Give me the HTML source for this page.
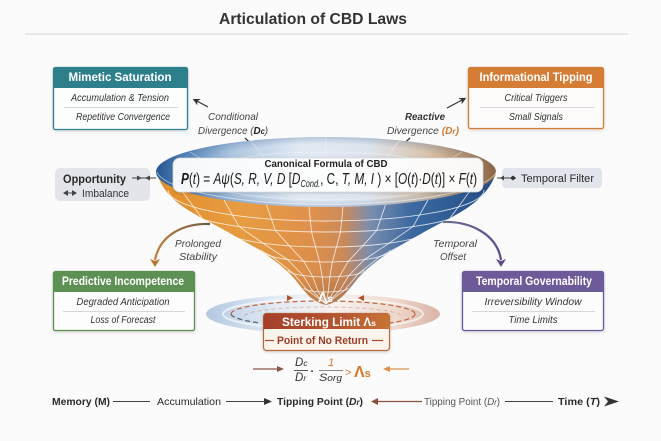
<!DOCTYPE html>
<html><head><meta charset="utf-8">
<style>
html,body{margin:0;padding:0;background:#fbfbfc;}
svg{display:block;}
text{font-family:"Liberation Sans",sans-serif;}
.it{font-style:italic;}
.b{font-weight:bold;}
</style></head>
<body>
<svg width="661" height="441" viewBox="0 0 661 441" xmlns="http://www.w3.org/2000/svg">
<defs>
  <linearGradient id="body" gradientUnits="userSpaceOnUse" x1="157" y1="0" x2="496" y2="0">
    <stop offset="0" stop-color="#e3902c"/>
    <stop offset="0.25" stop-color="#eb9e42"/>
    <stop offset="0.45" stop-color="#e3934c"/>
    <stop offset="0.55" stop-color="#d08c5a"/>
    <stop offset="0.63" stop-color="#7b8fb0"/>
    <stop offset="0.75" stop-color="#3d6ba3"/>
    <stop offset="1" stop-color="#214c85"/>
  </linearGradient>
  <linearGradient id="bodyShade" x1="0" y1="0" x2="0" y2="1">
    <stop offset="0" stop-color="#000" stop-opacity="0"/>
    <stop offset="0.75" stop-color="#000" stop-opacity="0.03"/>
    <stop offset="1" stop-color="#0a1a40" stop-opacity="0.2"/>
  </linearGradient>
  <linearGradient id="inner" gradientUnits="userSpaceOnUse" x1="157" y1="0" x2="496" y2="0">
    <stop offset="0" stop-color="#2a5a96"/>
    <stop offset="0.07" stop-color="#5586bd"/>
    <stop offset="0.22" stop-color="#adc6e1"/>
    <stop offset="0.42" stop-color="#e1e9f3"/>
    <stop offset="0.62" stop-color="#dde4ee"/>
    <stop offset="0.8" stop-color="#d9c3aa"/>
    <stop offset="0.93" stop-color="#c4935f"/>
    <stop offset="1" stop-color="#a56a35"/>
  </linearGradient>
  <radialGradient id="innerEdge" cx="0.5" cy="0.5" r="0.5">
    <stop offset="0.8" stop-color="#1d4a85" stop-opacity="0"/>
    <stop offset="1" stop-color="#1d4a85" stop-opacity="0.22"/>
  </radialGradient>
  <linearGradient id="disk" x1="0" y1="0" x2="1" y2="0">
    <stop offset="0" stop-color="#b3c8e1"/>
    <stop offset="0.3" stop-color="#e3ebf4"/>
    <stop offset="0.55" stop-color="#f6f2ef"/>
    <stop offset="0.8" stop-color="#efdad0"/>
    <stop offset="1" stop-color="#d9b4a6"/>
  </linearGradient>
  <linearGradient id="sterk" x1="0" y1="0" x2="1" y2="0">
    <stop offset="0" stop-color="#a4402c"/>
    <stop offset="0.6" stop-color="#b5552f"/>
    <stop offset="1" stop-color="#c87436"/>
  </linearGradient>
  <linearGradient id="prol" gradientUnits="userSpaceOnUse" x1="210" y1="0" x2="150" y2="0">
    <stop offset="0" stop-color="#6b5a48"/>
    <stop offset="1" stop-color="#c4843c"/>
  </linearGradient>
  <linearGradient id="toff" gradientUnits="userSpaceOnUse" x1="443" y1="0" x2="505" y2="0">
    <stop offset="0" stop-color="#6a7090"/>
    <stop offset="1" stop-color="#5f4a94"/>
  </linearGradient>
  <clipPath id="bodyClip">
    <path d="M157,172 C160,187 172,200 188,210 C204,220 218,226 233,235 C257,248 276,260 290,274 C302,286 308,301 326,305 C344,301 350,286 362,274 C376,260 395,248 419,235 C434,226 448,220 464,210 C480,200 492,187 496,172 A170,35 0 0 1 157,172 Z"/>
  </clipPath>
  <clipPath id="innerClip"><ellipse cx="326" cy="172" rx="170" ry="35"/></clipPath>
  <filter id="sh" x="-10%" y="-30%" width="120%" height="160%">
    <feDropShadow dx="0" dy="1" stdDeviation="1.5" flood-color="#000" flood-opacity="0.18"/>
  </filter>
  <marker id="ah" viewBox="0 0 10 10" refX="8" refY="5" markerWidth="6" markerHeight="6" orient="auto">
    <path d="M0,0 L10,5 L0,10 L3,5 Z" fill="#333"/>
  </marker>
</defs>

<!-- Title -->
<text x="313" y="24" text-anchor="middle" class="b" font-size="16" fill="#333" textLength="188" lengthAdjust="spacingAndGlyphs">Articulation of CBD Laws</text>
<line x1="25" y1="34" x2="628" y2="34" stroke="#d2d4d8" stroke-width="1"/>

<!-- Mimetic Saturation -->
<g filter="url(#sh)">
<rect x="53.5" y="67.5" width="134" height="62" rx="2" fill="#fcfdfd" stroke="#2d7f8d" stroke-width="1.3"/>
<path d="M53.5,88 V69.5 a2,2 0 0 1 2,-2 H185.5 a2,2 0 0 1 2,2 V88 Z" fill="#2e7f8c"/>
</g>
<text x="120" y="81" text-anchor="middle" class="b" font-size="11.5" fill="#fff" textLength="103" lengthAdjust="spacingAndGlyphs">Mimetic Saturation</text>
<text x="120" y="101" text-anchor="middle" class="it" font-size="10" fill="#333" textLength="98" lengthAdjust="spacingAndGlyphs">Accumulation &amp; Tension</text>
<line x1="64" y1="107.5" x2="178" y2="107.5" stroke="#d5d7da" stroke-width="1"/>
<text x="123" y="120" text-anchor="middle" class="it" font-size="10" fill="#333" textLength="94" lengthAdjust="spacingAndGlyphs">Repetitive Convergence</text>

<!-- Informational Tipping -->
<g filter="url(#sh)">
<rect x="468.5" y="67.5" width="135" height="61" rx="2" fill="#fdfcfb" stroke="#d47b35" stroke-width="1.3"/>
<path d="M468.5,88 V69.5 a2,2 0 0 1 2,-2 H601.5 a2,2 0 0 1 2,2 V88 Z" fill="#d57b35"/>
</g>
<text x="536" y="81" text-anchor="middle" class="b" font-size="11.5" fill="#fff" textLength="113" lengthAdjust="spacingAndGlyphs">Informational Tipping</text>
<text x="536" y="101" text-anchor="middle" class="it" font-size="10" fill="#333" textLength="63" lengthAdjust="spacingAndGlyphs">Critical Triggers</text>
<line x1="480" y1="107.5" x2="595" y2="107.5" stroke="#d5d7da" stroke-width="1"/>
<text x="536" y="120" text-anchor="middle" class="it" font-size="10" fill="#333" textLength="54" lengthAdjust="spacingAndGlyphs">Small Signals</text>

<!-- Conditional Divergence -->
<line x1="208" y1="107" x2="194" y2="99.5" stroke="#333" stroke-width="1.2" marker-end="url(#ah)"/>
<text x="233" y="120" text-anchor="middle" class="it" font-size="10.5" fill="#444" textLength="50" lengthAdjust="spacingAndGlyphs">Conditional</text>
<text x="198" y="134" class="it" font-size="10.5" fill="#444" textLength="70" lengthAdjust="spacingAndGlyphs">Divergence (<tspan class="b" fill="#222">D<tspan font-size="8">c</tspan></tspan>)</text>
<line x1="245" y1="138" x2="259" y2="151" stroke="#333" stroke-width="1.2" marker-end="url(#ah)"/>

<!-- Reactive Divergence -->
<line x1="447" y1="108" x2="465" y2="98.5" stroke="#333" stroke-width="1.2" marker-end="url(#ah)"/>
<text x="425" y="120" text-anchor="middle" class="it b" font-size="10.5" fill="#333" textLength="40" lengthAdjust="spacingAndGlyphs">Reactive</text>
<text x="387" y="134" class="it" font-size="10.5" fill="#444" textLength="72" lengthAdjust="spacingAndGlyphs">Divergence <tspan class="b" fill="#d27a2e">(D<tspan font-size="8">r</tspan>)</tspan></text>
<line x1="410" y1="138" x2="396" y2="151" stroke="#333" stroke-width="1.2" marker-end="url(#ah)"/>

<!-- Disk under funnel -->
<ellipse cx="323" cy="314" rx="117" ry="20" fill="url(#disk)"/>
<ellipse cx="323" cy="314" rx="100" ry="15" fill="none" stroke="#ffffff" stroke-opacity="0.6" stroke-width="2"/>
<path d="M231,314 A92,13 0 0 1 415,314" fill="none" stroke="#c2683f" stroke-width="1.2" stroke-dasharray="5,3"/>
<path d="M231,314 A92,13 0 0 0 260,323" fill="none" stroke="#5f6470" stroke-width="1.3" stroke-dasharray="5,3"/>
<path d="M415,314 A92,13 0 0 1 390,323" fill="none" stroke="#c2683f" stroke-width="1.2" stroke-dasharray="5,3"/>
<path d="M245,316 A78,9 0 0 1 401,316" fill="none" stroke="#c98a70" stroke-opacity="0.5" stroke-width="1" stroke-dasharray="4,3"/>
<path d="M287,295 L293,298 L287,301 Z" fill="#b0522e"/>
<path d="M364,295 L358,298 L364,301 Z" fill="#b0522e"/>

<!-- Funnel body -->
<path d="M157,172 C160,187 172,200 188,210 C204,220 218,226 233,235 C257,248 276,260 290,274 C302,286 308,301 326,305 C344,301 350,286 362,274 C376,260 395,248 419,235 C434,226 448,220 464,210 C480,200 492,187 496,172 A170,35 0 0 1 157,172 Z" fill="url(#body)"/>
<g clip-path="url(#bodyClip)">
  <rect x="150" y="160" width="360" height="150" fill="url(#bodyShade)"/>
  <g fill="none" stroke="#fff" stroke-opacity="0.75" stroke-width="0.9">
    <path d="M168,190 A158,31 0 0 0 484,190"/>
    <path d="M181,205 A145,27 0 0 0 471,205"/>
    <path d="M221,228 A105,19 0 0 0 431,228"/>
    <path d="M262,250 A64,12 0 0 0 390,250"/>
    <path d="M288,270 A38,7 0 0 0 364,270"/>
    <path d="M304,288 A22,4 0 0 0 348,288"/>
    <polyline points="181.5,190.4 202.7,219.2 236.7,238 271.6,256.3 293.7,273.7 307.3,290.1 326,304"/>
    <polyline points="224,200 239,226.6 263,243.2 287.6,259.6 303.2,275.6 312.8,291.2 326,304"/>
    <polyline points="266.5,204.8 275.3,230.3 289.3,245.8 303.6,261.2 312.7,276.6 318.3,291.7 326,304"/>
    <polyline points="309,206.8 311.5,231.9 315.5,246.9 319.6,261.9 322.2,277 323.8,292 326,304"/>
    <polyline points="343,206.8 340.5,231.9 336.5,246.9 332.4,261.9 329.8,277 328.2,292 326,304"/>
    <polyline points="385.5,204.8 376.8,230.3 362.8,245.8 348.4,261.2 339.3,276.6 333.7,291.7 326,304"/>
    <polyline points="428,200 413,226.6 389,243.2 364.4,259.6 348.8,275.6 339.2,291.2 326,304"/>
    <polyline points="470.5,190.4 449.3,219.2 415.3,238 380.4,256.3 358.3,273.7 344.7,290.1 326,304"/>
  </g>
</g>

<!-- Funnel interior (top opening) -->
<ellipse cx="326" cy="172" rx="170" ry="35" fill="url(#inner)"/>
<ellipse cx="326" cy="172" rx="170" ry="35" fill="url(#innerEdge)"/>
<g clip-path="url(#innerClip)" fill="none" stroke="#fff" stroke-opacity="0.4" stroke-width="0.8">
  <ellipse cx="326" cy="176" rx="130" ry="24"/>
  <ellipse cx="326" cy="180" rx="90" ry="15"/>
  <line x1="326" y1="137" x2="326" y2="190"/>
  <line x1="250" y1="140" x2="290" y2="190"/>
  <line x1="400" y1="140" x2="362" y2="190"/>
  <line x1="190" y1="152" x2="255" y2="190"/>
  <line x1="462" y1="152" x2="397" y2="190"/>
</g>
<path d="M157,172 A170,35 0 0 0 496,172" fill="none" stroke="#fff" stroke-opacity="0.55" stroke-width="1"/>

<!-- Formula box -->
<rect x="173" y="158" width="310" height="34" rx="7" fill="#ffffff" fill-opacity="0.94" stroke="#d8dadd" stroke-width="0.8" filter="url(#sh)"/>
<text x="326" y="167" text-anchor="middle" class="b" font-size="10.5" fill="#222" textLength="123" lengthAdjust="spacingAndGlyphs">Canonical Formula of CBD</text>
<text x="181" y="184" font-size="16" fill="#1b1b1b" textLength="296" lengthAdjust="spacingAndGlyphs"><tspan class="it b">P</tspan>(<tspan class="it">t</tspan>) = <tspan class="it">Aψ</tspan>(<tspan class="it">S, R, V, D</tspan> [<tspan class="it">D</tspan><tspan class="it" font-size="10" dy="3">Cond.</tspan><tspan dy="-3">, C, </tspan><tspan class="it">T, M, I</tspan> ) × [<tspan class="it">O</tspan>(<tspan class="it">t</tspan>)·<tspan class="it">D</tspan>(<tspan class="it">t</tspan>)] × <tspan class="it">F</tspan>(<tspan class="it">t</tspan>)</text>

<!-- Λs at tip -->
<text x="318" y="302" font-family="Liberation Serif, serif" font-size="14" fill="#fff" font-weight="bold">Λ<tspan font-size="10">s</tspan></text>

<!-- Opportunity -->
<rect x="55" y="168" width="95" height="33" rx="5" fill="#e3e5eb"/>
<text x="63" y="183" class="b" font-size="12" fill="#2a2a2a" textLength="63" lengthAdjust="spacingAndGlyphs">Opportunity</text>
<line x1="132" y1="178" x2="156" y2="178" stroke="#444" stroke-width="1"/>
<path d="M137,175.5 L142,178 L137,180.5 Z" fill="#444"/>
<path d="M150,175.5 L145,178 L150,180.5 Z" fill="#444"/>
<path d="M63,193 L68,190 L68,196 Z" fill="#444"/>
<path d="M77,193 L72,190 L72,196 Z" fill="#444"/>
<line x1="66" y1="193" x2="74" y2="193" stroke="#444" stroke-width="1"/>
<text x="82" y="197" font-size="11" fill="#333" textLength="47" lengthAdjust="spacingAndGlyphs">Imbalance</text>

<!-- Temporal Filter -->
<rect x="502" y="168" width="100" height="20" rx="4" fill="#e2e5ec"/>
<line x1="497" y1="178" x2="516" y2="178" stroke="#444" stroke-width="1"/>
<path d="M500,178 L504,175.5 L504,180.5 Z" fill="#444"/>
<path d="M510,178 L513,175.5 L516,178 L513,180.5 Z" fill="#333"/>
<text x="521" y="182" font-size="11" fill="#2a2a2a" textLength="73" lengthAdjust="spacingAndGlyphs">Temporal Filter</text>

<!-- Prolonged Stability arrow -->
<path d="M210,224 C185,223 160,234 155,260" fill="none" stroke="url(#prol)" stroke-width="2.2"/>
<path d="M150,259 L155,267 L160,259 L155,261 Z" fill="#b4782f"/>
<text x="198" y="247" text-anchor="middle" class="it" font-size="10.5" fill="#444" textLength="46" lengthAdjust="spacingAndGlyphs">Prolonged</text>
<text x="198" y="260" text-anchor="middle" class="it" font-size="10.5" fill="#444" textLength="38" lengthAdjust="spacingAndGlyphs">Stability</text>

<!-- Temporal Offset arrow -->
<path d="M443,222 C470,221 497,234 501,260" fill="none" stroke="url(#toff)" stroke-width="2.2"/>
<path d="M496,259 L501,267 L506,259 L501,261 Z" fill="#5e4a92"/>
<text x="455" y="247" text-anchor="middle" class="it" font-size="10.5" fill="#444" textLength="44" lengthAdjust="spacingAndGlyphs">Temporal</text>
<text x="453" y="260" text-anchor="middle" class="it" font-size="10.5" fill="#444" textLength="26" lengthAdjust="spacingAndGlyphs">Offset</text>

<!-- Predictive Incompetence -->
<g filter="url(#sh)">
<rect x="53.5" y="271.5" width="141" height="59" rx="2" fill="#fcfdfc" stroke="#5b8f4f" stroke-width="1.3"/>
<path d="M53.5,292 V273.5 a2,2 0 0 1 2,-2 H192.5 a2,2 0 0 1 2,2 V292 Z" fill="#5d9152"/>
</g>
<text x="123" y="285" text-anchor="middle" class="b" font-size="11.5" fill="#fff" textLength="122" lengthAdjust="spacingAndGlyphs">Predictive Incompetence</text>
<text x="123" y="305" text-anchor="middle" class="it" font-size="10" fill="#333" textLength="93" lengthAdjust="spacingAndGlyphs">Degraded Anticipation</text>
<line x1="63" y1="311.5" x2="185" y2="311.5" stroke="#d5d7da" stroke-width="1"/>
<text x="123" y="323" text-anchor="middle" class="it" font-size="10" fill="#333" textLength="65" lengthAdjust="spacingAndGlyphs">Loss of Forecast</text>

<!-- Temporal Governability -->
<g filter="url(#sh)">
<rect x="462.5" y="271.5" width="141" height="59" rx="2" fill="#fcfcfd" stroke="#6b5798" stroke-width="1.3"/>
<path d="M462.5,292 V273.5 a2,2 0 0 1 2,-2 H601.5 a2,2 0 0 1 2,2 V292 Z" fill="#6d5a99"/>
</g>
<text x="534" y="285" text-anchor="middle" class="b" font-size="11.5" fill="#fff" textLength="116" lengthAdjust="spacingAndGlyphs">Temporal Governability</text>
<text x="533" y="305" text-anchor="middle" class="it" font-size="10" fill="#333" textLength="97" lengthAdjust="spacingAndGlyphs">Irreversibility Window</text>
<line x1="472" y1="311.5" x2="595" y2="311.5" stroke="#d5d7da" stroke-width="1"/>
<text x="533" y="323" text-anchor="middle" class="it" font-size="10" fill="#333" textLength="49" lengthAdjust="spacingAndGlyphs">Time Limits</text>

<!-- Sterking Limit box -->
<g filter="url(#sh)">
<rect x="263.5" y="313.5" width="126" height="37" rx="3" fill="#fbf4ec" stroke="#b8683a" stroke-width="1.2"/>
<path d="M263.5,329 V316.5 a3,3 0 0 1 3,-3 H386.5 a3,3 0 0 1 3,3 V329 Z" fill="url(#sterk)"/>
</g>
<text x="282" y="326" class="b" font-size="11.5" fill="#fff" textLength="94" lengthAdjust="spacingAndGlyphs">Sterking Limit Λ<tspan font-size="8.5">s</tspan></text>
<line x1="265" y1="340.5" x2="274" y2="340.5" stroke="#a84a30" stroke-width="1.2"/>
<line x1="372" y1="340.5" x2="383" y2="340.5" stroke="#a84a30" stroke-width="1.2"/>
<text x="277" y="344" class="b" font-size="11" fill="#9e3f28" textLength="91" lengthAdjust="spacingAndGlyphs">Point of No Return</text>

<!-- Lower formula -->
<line x1="253" y1="369" x2="280" y2="369" stroke="#8a5644" stroke-width="1.2"/>
<path d="M277,366 L284,369 L277,372 Z" fill="#8a5644"/>
<text x="295" y="366" class="it" font-size="11.5" fill="#333">D<tspan font-size="8.5">c</tspan></text>
<line x1="294" y1="370.5" x2="308" y2="370.5" stroke="#444" stroke-width="0.9"/>
<text x="295" y="381" class="it" font-size="11.5" fill="#333">D<tspan font-size="8.5">r</tspan></text>
<text x="310.5" y="375" font-size="11" fill="#333" class="b">·</text>
<text x="328" y="366" class="it" font-size="11" fill="#d2792e">1</text>
<line x1="319" y1="370.5" x2="343" y2="370.5" stroke="#888" stroke-width="0.9"/>
<text x="319" y="381" class="it" font-size="11" fill="#333" textLength="23" lengthAdjust="spacingAndGlyphs">S<tspan font-size="9">org</tspan></text>
<text x="345" y="376" font-size="11" fill="#d2792e">&gt;</text>
<text x="354" y="377" font-family="Liberation Serif, serif" font-size="16" fill="#d2792e" font-weight="bold">Λ<tspan font-size="11">s</tspan></text>
<line x1="388" y1="369" x2="409" y2="369" stroke="#e0904a" stroke-width="1.2"/>
<path d="M390,366 L383,369 L390,372 Z" fill="#e0904a"/>

<!-- Bottom row -->
<text x="52" y="405" class="b" font-size="10.5" fill="#2a2a2a" textLength="58" lengthAdjust="spacingAndGlyphs">Memory (M)</text>
<line x1="113" y1="401.5" x2="150" y2="401.5" stroke="#444" stroke-width="1"/>
<text x="157" y="405" font-size="10.5" fill="#2a2a2a" textLength="64" lengthAdjust="spacingAndGlyphs">Accumulation</text>
<line x1="226" y1="401.5" x2="265" y2="401.5" stroke="#444" stroke-width="1"/>
<path d="M264,398 L272,401.5 L264,405 Z" fill="#333"/>
<text x="277" y="405" class="b" font-size="10.5" fill="#2a2a2a" textLength="86" lengthAdjust="spacingAndGlyphs">Tipping Point (<tspan class="it">D<tspan font-size="8">r</tspan></tspan>)</text>
<path d="M378,398 L371,401.5 L378,405 Z" fill="#8a5040"/>
<line x1="376" y1="401.5" x2="422" y2="401.5" stroke="#8a5040" stroke-width="1.2"/>
<text x="424" y="405" font-size="10.5" fill="#555" textLength="76" lengthAdjust="spacingAndGlyphs">Tipping Point (<tspan class="it">D<tspan font-size="8">r</tspan></tspan>)</text>
<line x1="505" y1="401.5" x2="553" y2="401.5" stroke="#444" stroke-width="1"/>
<text x="558" y="405" class="b" font-size="10.5" fill="#2a2a2a" textLength="42" lengthAdjust="spacingAndGlyphs">Time (<tspan class="it">T</tspan>)</text>
<path d="M604,396.5 L619,401.5 L604,406.5 L608,401.5 Z" fill="#333"/>
</svg>
</body></html>
